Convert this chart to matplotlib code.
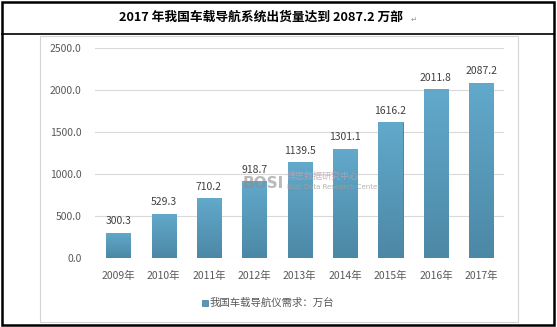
import matplotlib.pyplot as plt
import numpy as np
from matplotlib.colors import LinearSegmentedColormap
from matplotlib.patches import Rectangle
from matplotlib.lines import Line2D

plt.rcParams['font.family'] = ['Noto Sans CJK SC', 'DejaVu Sans']

# Data
years = ['2009年', '2010年', '2011年', '2012年', '2013年', '2014年', '2015年', '2016年', '2017年']
demand = [300.3, 529.3, 710.2, 918.7, 1139.5, 1301.1, 1616.2, 2011.8, 2087.2]
y_ticks = [0, 500, 1000, 1500, 2000, 2500]
title = '2017 年我国车载导航系统出货量达到 2087.2 万部'
legend_label = '我国车载导航仪需求：万台'

W, H = 557, 327
fig = plt.figure(figsize=(W / 100, H / 100), dpi=100)

# pixel coords -> figure fraction
def fx(x):
    return x / W

def fy(y):
    return 1 - y / H

# outer black frame and title separator
fig.add_artist(Rectangle((fx(1.5), fy(324.5)), fx(552.5), 323 / H, fill=False,
                         edgecolor='black', linewidth=1.8, transform=fig.transFigure))
fig.add_artist(Line2D([fx(1.5), fx(554)], [fy(33.5), fy(33.5)], color='black',
                      linewidth=1.2, transform=fig.transFigure))
# light gray chart frame
fig.add_artist(Rectangle((fx(39.5), fy(321.5)), fx(478.5), 286 / H, fill=False,
                         edgecolor='#D4D4D4', linewidth=0.8, transform=fig.transFigure))

fig.text(fx(261), fy(17), title, ha='center', va='center', fontsize=9.2,
         fontweight='bold', color='black')
fig.text(fx(411), fy(19), '↵', ha='left', va='center', fontsize=5.5,
         color='#999999', family=['DejaVu Sans'])

# plot area
ax = fig.add_axes([fx(95.5), fy(258), (504 - 95.5) / W, (258 - 48) / H])
x = np.arange(len(years))
bar_w = 0.53
bars = ax.bar(x, demand, width=bar_w, color='#5598BB', edgecolor='#3F7895',
              linewidth=0.6, zorder=3)

# vertical gradient fill, lighter at top
cmap = LinearSegmentedColormap.from_list('barfill', ['#62A9CB', '#4C88A6'])
grad = np.linspace(0, 1, 100).reshape(-1, 1)
for b in bars:
    bx, by = b.get_x(), b.get_y()
    im = ax.imshow(grad, cmap=cmap, aspect='auto', zorder=3, origin='upper',
                   extent=[bx, bx + b.get_width(), by, by + b.get_height()])
    im.set_clip_path(b)

for xi, v in zip(x, demand):
    ax.text(xi, v + 75, f'{v:.1f}', ha='center', va='bottom', fontsize=7.5,
            color='#404040')

ax.set_xlim(-0.5, 8.5)
ax.set_ylim(0, 2500)
ax.set_yticks(y_ticks)
ax.set_yticklabels([f'{t:.1f}' for t in y_ticks])
ax.set_xticks(x)
ax.set_xticklabels(years)
ax.tick_params(axis='both', length=0, labelsize=7.5, labelcolor='#595959')
ax.tick_params(axis='y', pad=10)
ax.tick_params(axis='x', pad=9)
ax.grid(axis='y', color='#D9D9D9', linewidth=0.8, zorder=0)
for s in ax.spines.values():
    s.set_visible(False)
ax.set_axisbelow(True)

# watermark
fig.text(fx(243), fy(183), 'BOSI', fontsize=11, fontweight='bold', color='#8C8C8C',
         alpha=0.6, ha='left', va='center', family=['DejaVu Sans'])
fig.text(fx(287), fy(176), '博思数据研究中心', fontsize=6.5, color='#C0A0B0',
         alpha=0.8, ha='left', va='center')
fig.text(fx(287), fy(187), 'Bosi Data Research Center', fontsize=5, color='#A0A0A0',
         alpha=0.8, ha='left', va='center', family=['DejaVu Sans'])

# legend
fig.add_artist(Rectangle((fx(202), fy(306)), 6 / W, 6 / H, facecolor='#5598BB',
                         edgecolor='#3F7895', linewidth=0.5, transform=fig.transFigure))
fig.text(fx(210), fy(303), legend_label, ha='left', va='center', fontsize=7.5,
         color='#595959')

fig.savefig('out.png', dpi=100)
